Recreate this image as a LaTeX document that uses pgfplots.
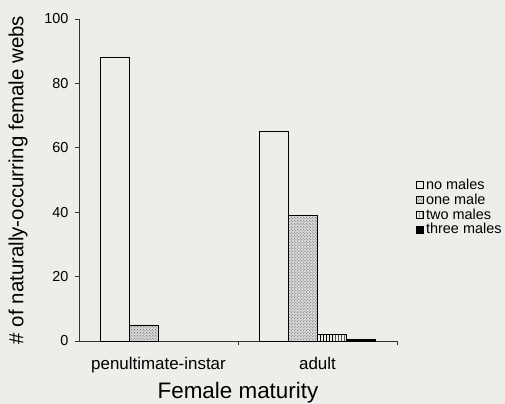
\documentclass[border=0pt]{standalone}
\usepackage{fontspec}
\setmainfont{Liberation Sans}
\usepackage{pgfplots}
\pgfplotsset{compat=1.18}
\usetikzlibrary{patterns,backgrounds}
\definecolor{bg}{RGB}{237,237,234}
\begin{document}
\begin{tikzpicture}
\begin{axis}[
  scale only axis, width=318bp, height=322bp,
  xmin=-0.5, xmax=1.5, ymin=0, ymax=100,
  axis x line*=bottom, axis y line*=left,
  axis line style={black!80, line width=0.6bp},
  tick align=outside,
  xtick={0,1}, xticklabels={penultimate-instar,adult},
  major x tick style={draw=none},
  extra x ticks={0.5,1.5}, extra x tick labels={},
  extra x tick style={major x tick style={draw=black!80, line width=0.6bp}, major tick length=4bp},
  ytick={0,20,40,60,80,100},
  major tick length=4bp,
  y tick style={black!80, line width=0.6bp},
  /pgf/number format/assume math mode=true,
  x tick label style={font=\fontsize{17}{19}\selectfont, yshift=-9bp},
  y tick label style={font=\fontsize{14.5}{16}\selectfont, xshift=-3bp},
  xlabel={Female maturity},
  ylabel={\# of naturally-occurring female webs},
  xlabel style={font=\fontsize{22.5}{26}\selectfont, at={(axis description cs:0.5,-0.161)}, anchor=center},
  ylabel style={font=\fontsize{20.5}{24}\selectfont, yshift=10bp},
  legend style={at={(1.05,0.416)}, anchor=west, draw=none, fill=none,
    font=\fontsize{14.5}{15}\selectfont, nodes={inner ysep=0bp, inner xsep=2.2bp}, row sep=3bp},
  legend cell align=left,
  mylegend/.style={legend image code/.code={\draw[##1, line width=0.8bp] (0bp,-3.5bp) rectangle (7bp,3.5bp);}},
]
\addplot[ybar, bar width=0.1824, bar shift=-0.2736, draw=black, line width=0.8bp, fill=none, mylegend]
  coordinates {(0,88) (1,65)};
\addlegendentry{no males}
\addplot[ybar, bar width=0.1824, bar shift=-0.0912, draw=black, line width=0.8bp, fill=black!15, postaction={pattern=crosshatch dots, pattern color=black!65}, mylegend]
  coordinates {(0,5) (1,39)};
\addlegendentry{one male}
\addplot[ybar, bar width=0.1824, bar shift=0.0912, draw=black, line width=0.8bp, pattern=vertical lines, mylegend]
  coordinates {(1,2)};
\addlegendentry{two males}
\addplot[ybar, bar width=0.1824, bar shift=0.2736, draw=black, line width=0.8bp, fill=black, mylegend]
  coordinates {(1,0.6)};
\addlegendentry{three males}
\path (rel axis cs:0,0) ++(-79bp,-63bp) coordinate (bbsw);
\path (rel axis cs:0,0) ++(426bp,341bp) coordinate (bbne);
\end{axis}
\pgfresetboundingbox
\path[use as bounding box] (bbsw) rectangle (bbne);
\begin{scope}[on background layer]
\fill[bg] (bbsw) rectangle (bbne);
\end{scope}
\end{tikzpicture}
\end{document}
